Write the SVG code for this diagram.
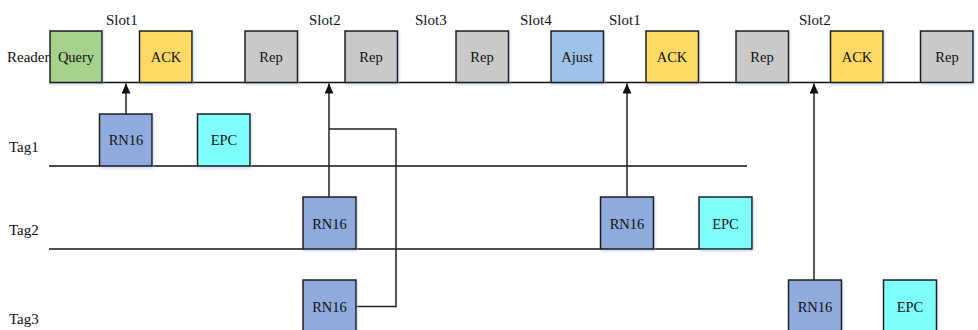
<svg xmlns="http://www.w3.org/2000/svg" width="978" height="330" viewBox="0 0 978 330">
  <style>
    .lbl { font-family: "Liberation Serif", "Times New Roman", serif; font-size: 15px; fill: #111; }
    .box text { font-family: "Liberation Serif", "Times New Roman", serif; font-size: 14.5px; fill: #111; text-anchor: middle; dominant-baseline: central; }
    .box rect { stroke: #1a1a1a; stroke-width: 1.5; filter: url(#glow); }
    .query rect { fill: #a9d18e; }
    .ack rect { fill: #ffd966; }
    .rep rect { fill: #c9c9c9; }
    .ajust rect { fill: #9dc3e6; }
    .rn16 rect { fill: #8faadc; }
    .epc rect { fill: #80ffff; }
    .line { stroke: #111; stroke-width: 1.5; fill: none; }
    .wire { stroke: #222; stroke-width: 1.5; fill: none; }
  </style>
  <defs>
    <marker id="arrow" viewBox="0 0 10 9" refX="10" refY="4.5" markerWidth="10" markerHeight="9" markerUnits="userSpaceOnUse" orient="auto">
      <path d="M0,0 L10,4.5 L0,9 Z" fill="#111"/>
    </marker>
    <filter id="glow" x="-10%" y="-10%" width="125%" height="125%">
      <feDropShadow dx="1" dy="1.5" stdDeviation="1.2" flood-color="#9db4d8" flood-opacity="0.5"/>
    </filter>
  </defs>
  <rect width="978" height="330" fill="#ffffff"/>

  <!-- lane labels -->
  <g id="lane-labels">
    <text class="lbl" x="7" y="62">Reader</text>
    <text class="lbl" x="9" y="152">Tag1</text>
    <text class="lbl" x="9" y="235">Tag2</text>
    <text class="lbl" x="9" y="324">Tag3</text>
  </g>

  <!-- slot labels -->
  <g id="slot-labels">
    <text class="lbl" x="106" y="25">Slot1</text>
    <text class="lbl" x="309" y="25">Slot2</text>
    <text class="lbl" x="415" y="25">Slot3</text>
    <text class="lbl" x="520" y="25">Slot4</text>
    <text class="lbl" x="609" y="25">Slot1</text>
    <text class="lbl" x="799" y="25">Slot2</text>
  </g>

  <!-- time lines -->
  <g id="timelines">
    <line class="line" x1="50" y1="82.5" x2="920" y2="82.5"/>
    <line class="line" x1="49" y1="166" x2="747" y2="166"/>
    <line class="line" x1="49" y1="249" x2="699" y2="249"/>
  </g>

  <!-- reader commands -->
  <g id="reader-query" class="box query"><rect x="50" y="31" width="52" height="51.5"/><text x="76" y="57">Query</text></g>
  <g id="reader-ack1" class="box ack"><rect x="139.5" y="31" width="52.5" height="51.5"/><text x="166" y="57">ACK</text></g>
  <g id="reader-rep1" class="box rep"><rect x="245" y="31" width="52.5" height="51.5"/><text x="271" y="57">Rep</text></g>
  <g id="reader-rep2" class="box rep"><rect x="345" y="31" width="52.5" height="51.5"/><text x="371" y="57">Rep</text></g>
  <g id="reader-rep3" class="box rep"><rect x="456" y="31" width="52.5" height="51.5"/><text x="482" y="57">Rep</text></g>
  <g id="reader-ajust" class="box ajust"><rect x="551" y="31" width="52.5" height="51.5"/><text x="577" y="57">Ajust</text></g>
  <g id="reader-ack2" class="box ack"><rect x="646" y="31" width="52.5" height="51.5"/><text x="672" y="57">ACK</text></g>
  <g id="reader-rep4" class="box rep"><rect x="736" y="31" width="52.5" height="51.5"/><text x="762" y="57">Rep</text></g>
  <g id="reader-ack3" class="box ack"><rect x="830.5" y="31" width="52.5" height="51.5"/><text x="857" y="57">ACK</text></g>
  <g id="reader-rep5" class="box rep"><rect x="920.5" y="31" width="52.5" height="51.5"/><text x="947" y="57">Rep</text></g>

  <!-- connectors -->
  <g id="connectors">
    <line class="wire" x1="126" y1="114" x2="126" y2="83.5" marker-end="url(#arrow)"/>
    <line class="wire" x1="329" y1="197" x2="329" y2="83.5" marker-end="url(#arrow)"/>
    <polyline class="wire" points="356,306.5 396,306.5 396,129 329,129"/>
    <line class="wire" x1="627" y1="197" x2="627" y2="83.5" marker-end="url(#arrow)"/>
    <line class="wire" x1="814" y1="280" x2="814" y2="83.5" marker-end="url(#arrow)"/>
  </g>

  <!-- tag replies -->
  <g id="tag1-rn16" class="box rn16"><rect x="99.5" y="114" width="52.5" height="52"/><text x="126" y="140">RN16</text></g>
  <g id="tag1-epc" class="box epc"><rect x="197.5" y="114" width="52.5" height="52"/><text x="224" y="140">EPC</text></g>
  <g id="tag2-rn16a" class="box rn16"><rect x="303" y="197" width="53" height="52"/><text x="329.5" y="224">RN16</text></g>
  <g id="tag2-rn16b" class="box rn16"><rect x="600.5" y="197" width="53" height="52"/><text x="627" y="224">RN16</text></g>
  <g id="tag2-epc" class="box epc"><rect x="699" y="197" width="53" height="52"/><text x="725.5" y="224">EPC</text></g>
  <g id="tag3-rn16a" class="box rn16"><rect x="303" y="280" width="53" height="54"/><text x="329.5" y="307">RN16</text></g>
  <g id="tag3-rn16b" class="box rn16"><rect x="788.5" y="280" width="53" height="54"/><text x="815" y="307">RN16</text></g>
  <g id="tag3-epc" class="box epc"><rect x="883.5" y="280" width="53" height="54"/><text x="910" y="307">EPC</text></g>
</svg>
